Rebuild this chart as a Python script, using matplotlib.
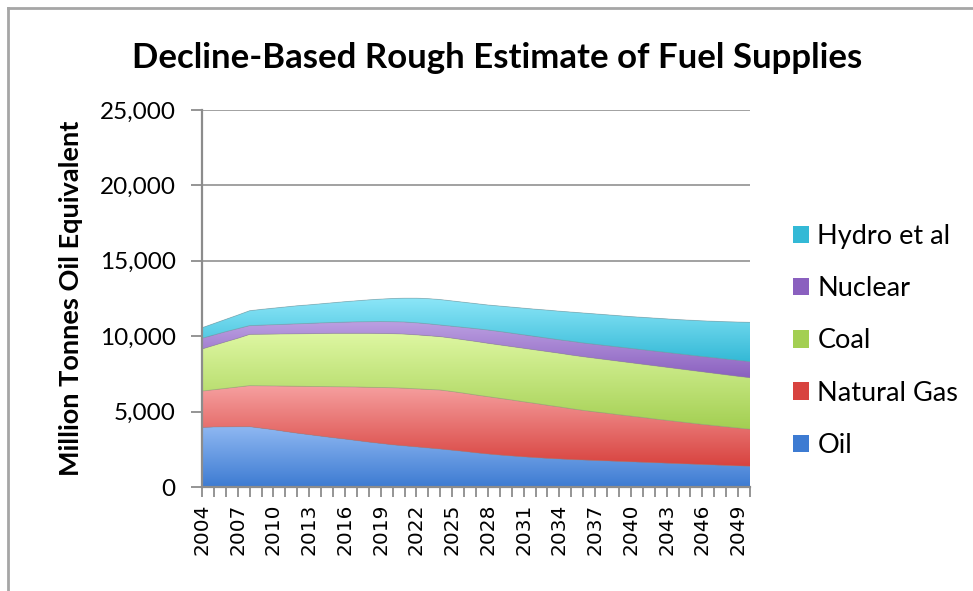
import numpy as np
import matplotlib
matplotlib.use("Agg")
import matplotlib.pyplot as plt
from matplotlib.colors import LinearSegmentedColormap
from matplotlib.patches import Patch
from matplotlib.lines import Line2D
from matplotlib.ticker import FuncFormatter, MultipleLocator

# date (milioane tone echivalent petrol)
years = list(range(2004, 2051))

oil = [3950, 3980, 3990, 4000, 4000, 3900, 3800, 3680, 3570, 3470,
       3370, 3270, 3180, 3080, 2980, 2890, 2800, 2730, 2660, 2590,
       2520, 2440, 2360, 2270, 2190, 2120, 2060, 2000, 1950, 1900,
       1860, 1820, 1790, 1760, 1730, 1700, 1670, 1640, 1610, 1580,
       1550, 1520, 1490, 1460, 1430, 1400, 1370]

natural_gas = [2410, 2470, 2550, 2630, 2720, 2810, 2900, 3010, 3110, 3200,
               3290, 3380, 3460, 3550, 3630, 3710, 3780, 3820, 3850, 3880,
               3910, 3890, 3860, 3830, 3800, 3760, 3710, 3650, 3590, 3520,
               3450, 3370, 3290, 3220, 3160, 3090, 3030, 2970, 2900, 2840,
               2780, 2720, 2660, 2610, 2560, 2510, 2460]

coal = [2790, 2940, 3090, 3230, 3400, 3420, 3440, 3460, 3480, 3500,
        3520, 3540, 3550, 3560, 3580, 3580, 3590, 3590, 3580, 3560,
        3540, 3540, 3540, 3550, 3540, 3540, 3540, 3550, 3550, 3560,
        3560, 3560, 3560, 3560, 3550, 3550, 3540, 3530, 3530, 3520,
        3510, 3500, 3490, 3470, 3450, 3430, 3420]

nuclear = [710, 690, 670, 640, 580, 600, 620, 640, 660, 680,
           700, 720, 740, 760, 770, 790, 790, 800, 800, 790,
           770, 790, 820, 850, 880, 890, 890, 890, 890, 890,
           890, 910, 910, 920, 930, 940, 950, 960, 970, 980,
           990, 1000, 1010, 1030, 1040, 1060, 1060]

hydro = [700, 760, 820, 900, 990, 1050, 1100, 1150, 1200, 1230,
         1270, 1310, 1360, 1400, 1450, 1490, 1540, 1580, 1630, 1670,
         1690, 1680, 1670, 1660, 1660, 1690, 1730, 1770, 1810, 1860,
         1900, 1940, 1990, 2020, 2050, 2080, 2110, 2150, 2190, 2230,
         2270, 2320, 2370, 2420, 2480, 2540, 2610]

names = ["Oil", "Natural Gas", "Coal", "Nuclear", "Hydro et al"]
# (culoare sus, culoare jos) pentru gradient
colors = [("#8fb8f2", "#3d7bd2"),
          ("#f6a0a0", "#d8433f"),
          ("#def7a2", "#a3cf52"),
          ("#bca0e2", "#8a60bf"),
          ("#8ce6f8", "#33b9d6")]

plt.rcParams["font.family"] = ["Lato", "DejaVu Sans"]

fig = plt.figure(figsize=(9.73, 5.91), dpi=100)
ax = fig.add_axes([202 / 973, 1 - 487 / 591, 548 / 973, 377 / 591])

x = np.array(years, dtype=float)
series = [oil, natural_gas, coal, nuclear, hydro]
lower = np.zeros(len(x))
for vals, (ctop, cbot) in zip(series, colors):
    upper = lower + np.array(vals, dtype=float)
    poly = ax.fill_between(x, lower, upper, facecolor=cbot, edgecolor="none", zorder=2)
    cmap = LinearSegmentedColormap.from_list("g", [cbot, ctop])
    grad = np.linspace(0, 1, 256).reshape(-1, 1)
    im = ax.imshow(grad, extent=[x[0], x[-1], lower.min(), upper.max()],
                   origin="lower", aspect="auto", cmap=cmap, zorder=2)
    im.set_clip_path(poly.get_paths()[0], transform=ax.transData)
    ax.plot(x, upper, color="#8a8a8a", lw=0.6, alpha=0.5, zorder=3)
    lower = upper

ax.set_xlim(years[0], years[-1])
ax.set_ylim(0, 25000)

# grila si axe
ax.yaxis.set_major_locator(MultipleLocator(5000))
ax.yaxis.set_major_formatter(FuncFormatter(lambda v, p: f"{int(v):,}"))
ax.grid(axis="y", color="#9a9a9a", lw=1.3, zorder=1)
ax.set_axisbelow(True)
for s in ["top", "right"]:
    ax.spines[s].set_visible(False)
for s in ["left", "bottom"]:
    ax.spines[s].set_color("#8c8c8c")
    ax.spines[s].set_linewidth(1.6)
    ax.spines[s].set_zorder(4)

ax.set_xticks(years[::3])
ax.set_xticklabels([str(y) for y in years[::3]], rotation=90,
                   fontfamily="DejaVu Sans", fontsize=14.5)
ax.set_xticks(years, minor=True)
ax.tick_params(axis="x", which="both", direction="out", length=7, width=1.3,
               color="#8c8c8c", pad=5)
ax.tick_params(axis="y", direction="out", length=8, width=1.3, color="#8c8c8c",
               labelsize=17.5, pad=11)

ax.set_ylabel("Million Tonnes Oil Equivalent", fontsize=19.5, fontweight="bold",
              labelpad=12)
fig.text(0.511, 1 - 58 / 591, "Decline-Based Rough Estimate of Fuel Supplies",
         ha="center", va="center", fontsize=25, fontweight="bold")

# legenda (ordine inversa)
handles = [Patch(facecolor=c[1], edgecolor="none") for c in colors][::-1]
ax.legend(handles, names[::-1], loc="center left",
          bbox_to_anchor=(793 / 973, 1 - 341 / 591), bbox_transform=fig.transFigure,
          frameon=False, fontsize=19.5, handlelength=0.6, handleheight=0.6,
          handletextpad=0.3, labelspacing=1.0, borderaxespad=0, borderpad=0)

# chenarul imaginii
fig.add_artist(Line2D([8 / 973, 1], [1 - 8 / 591, 1 - 8 / 591], color="#a6a6a6", lw=2))
fig.add_artist(Line2D([8 / 973, 8 / 973], [0, 1 - 8 / 591], color="#a6a6a6", lw=2))

fig.savefig("out.png", dpi=100)
